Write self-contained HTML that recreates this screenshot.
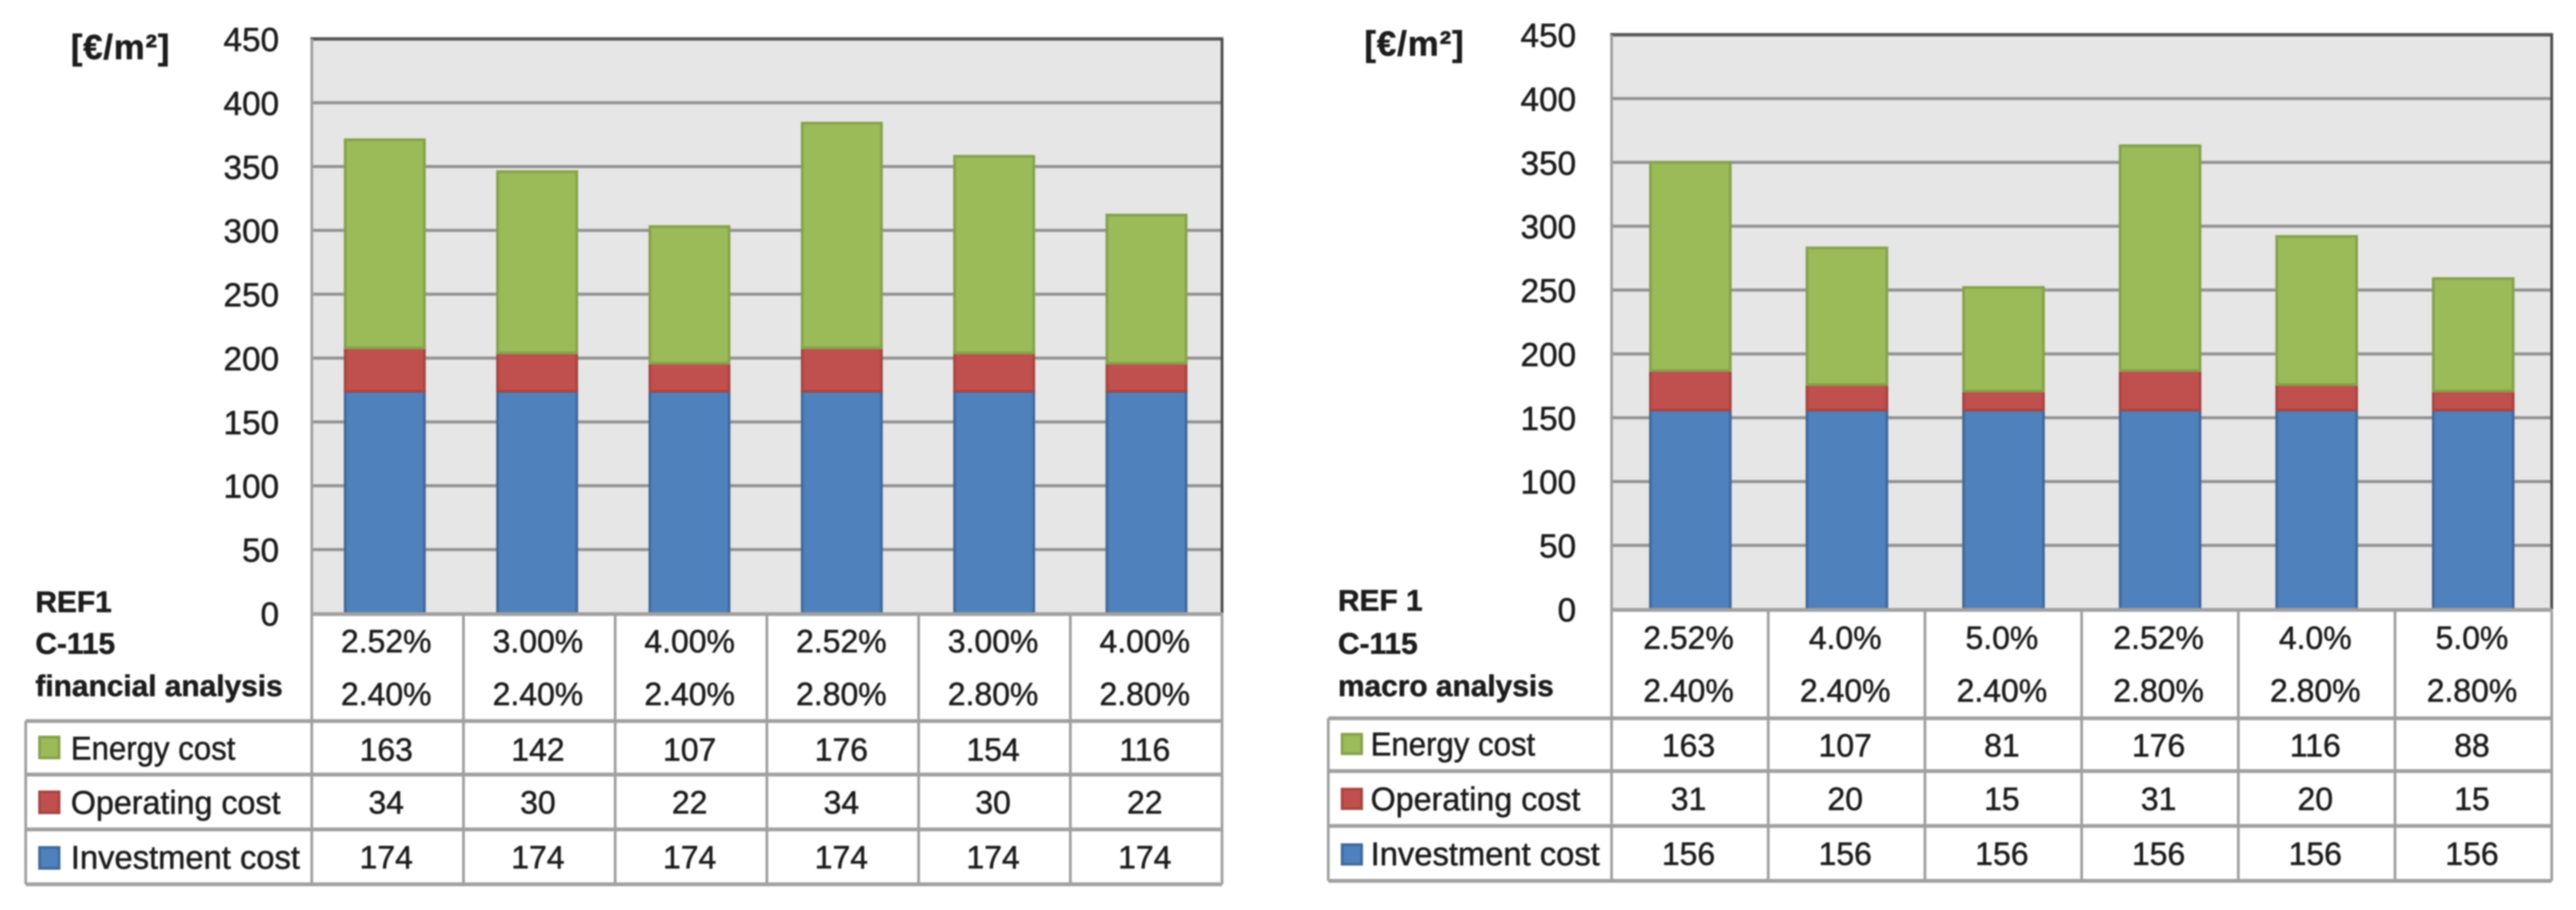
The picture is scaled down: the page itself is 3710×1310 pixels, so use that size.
<!DOCTYPE html>
<html lang="en">
<head>
<meta charset="utf-8">
<title>REF1 C-115 cost comparison</title>
<style>
html,body{margin:0;padding:0;background:#fff;}
body{width:3710px;height:1310px;overflow:hidden;}
svg{display:block;filter:blur(1.1px);}
text{font-family:"Liberation Sans",sans-serif;fill:#1c1c1c;stroke:#1c1c1c;stroke-width:.7px;}
</style>
</head>
<body>
<svg id="figure" xmlns="http://www.w3.org/2000/svg" width="3710" height="1310" viewBox="0 0 3710 1310"></svg>
<script>
// Shared data
const yTickLabels = [0, 50, 100, 150, 200, 250, 300, 350, 400, 450];
const yMax = 450;
const unitLabel = '[€/m²]';
const seriesNames = ['Energy cost', 'Operating cost', 'Investment cost'];

// Left chart data
const leftTitleLines = ['REF1', 'C-115', 'financial analysis'];
const leftRowOne = ['2.52%', '3.00%', '4.00%', '2.52%', '3.00%', '4.00%'];
const leftRowTwo = ['2.40%', '2.40%', '2.40%', '2.80%', '2.80%', '2.80%'];
const leftEnergy = [163, 142, 107, 176, 154, 116];
const leftOperating = [34, 30, 22, 34, 30, 22];
const leftInvestment = [174, 174, 174, 174, 174, 174];

// Right chart data
const rightTitleLines = ['REF 1', 'C-115', 'macro analysis'];
const rightRowOne = ['2.52%', '4.0%', '5.0%', '2.52%', '4.0%', '5.0%'];
const rightRowTwo = ['2.40%', '2.40%', '2.40%', '2.80%', '2.80%', '2.80%'];
const rightEnergy = [163, 107, 81, 176, 116, 88];
const rightOperating = [31, 20, 15, 31, 20, 15];
const rightInvestment = [156, 156, 156, 156, 156, 156];

const COLORS = {
  energy: ['#9bbb59', '#86a24c'],
  operating: ['#c0504d', '#a74542'],
  investment: ['#4f81bd', '#41699c']
};
const GRID = '#939393';
const TABLE_LINE = '#a0a0a0';
const LEGEND_FIT = [237, 302, 330];

const svg = document.getElementById('figure');
const NS = 'http://www.w3.org/2000/svg';

function make(tag, attrs, parent) {
  const el = document.createElementNS(NS, tag);
  for (const k in attrs) el.setAttribute(k, attrs[k]);
  parent.appendChild(el);
  return el;
}

function label(parent, str, x, y, size, anchor, weight) {
  const t = make('text', {
    x: x, y: y, 'font-size': size, 'text-anchor': anchor || 'middle',
    'font-weight': weight || 'normal', 'dominant-baseline': 'central'
  }, parent);
  t.textContent = str;
  return t;
}

function drawChart(layout, data) {
  const root = make('g', {}, svg);
  
  

  const n = data.energy.length;
  const y = v => layout.base - (v / yMax) * (layout.base - layout.top);
  const barX = i => layout.bandStart + (i + 0.5) * layout.bandStep;
  const colX = i => layout.left + i * (layout.right - layout.left) / n;

  // plot background
  const plot = make('rect', {
    x: layout.left, y: layout.top, width: layout.right - layout.left, height: layout.base - layout.top, fill: '#e6e6e6'
  }, root);
  
  

  // gridlines and y tick labels
  yTickLabels.forEach(v => {
    if (v > 0 && v < yMax) {
      const g = make('line', {
        x1: layout.left, x2: layout.right, y1: y(v), y2: y(v), stroke: GRID, 'stroke-width': 4.5
      }, root);
      
      
    }
    const t = label(root, String(v), layout.tickX, y(v) + 2, 48, 'end');
    
    
  });

  // stacked bars: investment at the bottom, then operating, then energy
  for (let i = 0; i < n; i++) {
    const stack = [
      ['investment', data.investment[i]],
      ['operating', data.operating[i]],
      ['energy', data.energy[i]]
    ];
    let sum = 0;
    stack.forEach(([key, value]) => {
      const yTop = y(sum + value);
      const yBottom = y(sum);
      const r = make('rect', {
        x: barX(i) - layout.barWidth / 2, y: yTop, width: layout.barWidth, height: yBottom - yTop,
        fill: COLORS[key][0], stroke: COLORS[key][1], 'stroke-width': 4
      }, root);
      
      
      sum += value;
    });
  }

  // frame: dark top and right, grey left and bottom
  const frameTop = make('line', { x1: layout.left - 2, x2: layout.right + 2, y1: layout.top, y2: layout.top, stroke: '#5a5a5a', 'stroke-width': 5 }, root);
  
  
  const frameRight = make('line', { x1: layout.right, x2: layout.right, y1: layout.top, y2: layout.base, stroke: '#4a4a4a', 'stroke-width': 4 }, root);
  
  

  // data table lines
  const rows = layout.rows;
  const hLines = [
    [layout.left, rows[0]],
    [layout.tableLeft, rows[1]],
    [layout.tableLeft, rows[2]],
    [layout.tableLeft, rows[3]],
    [layout.tableLeft, rows[4]]
  ];
  hLines.forEach(([x1, yy], idx) => {
    const l = make('line', { x1: x1, x2: layout.right, y1: yy, y2: yy, stroke: TABLE_LINE, 'stroke-width': 5.5 }, root);
    
    
  });
  for (let i = 0; i <= n; i++) {
    const yStart = (i === 0) ? layout.top : rows[0];
    const l = make('line', { x1: colX(i), x2: colX(i), y1: yStart, y2: rows[4], stroke: TABLE_LINE, 'stroke-width': 4 }, root);
    
    
  }
  const tl = make('line', { x1: layout.tableLeft, x2: layout.tableLeft, y1: rows[1], y2: rows[4], stroke: TABLE_LINE, 'stroke-width': 4 }, root);
  
  

  // unit label
  const unit = label(root, unitLabel, layout.unitX, layout.unitY, 50, 'start', 'bold');
  unit.setAttribute('textLength', layout.unitWidth);
  
  

  // title block
  data.title.forEach((line, idx) => {
    const t = label(root, line, layout.titleX, layout.titleY[idx], 43, 'start', 'bold');
    
    
  });

  // table header values and series values
  const mid = i => (colX(i) + colX(i + 1)) / 2 - 2;
  for (let i = 0; i < n; i++) {
    const a = label(root, data.rowOne[i], mid(i), layout.headerY[0], 46);
    
    
    const b = label(root, data.rowTwo[i], mid(i), layout.headerY[1], 46);
    
    
    [data.energy, data.operating, data.investment].forEach((series, s) => {
      const c = label(root, String(series[i]), mid(i), layout.valueY[s], 46);
      
      
    });
  }

  // legend entries in the table
  const keys = ['energy', 'operating', 'investment'];
  seriesNames.forEach((nameText, s) => {
    const sw = make('rect', {
      x: layout.swatchX, y: layout.swatchY[s], width: layout.swatchW, height: layout.swatchH,
      fill: COLORS[keys[s]][0], stroke: COLORS[keys[s]][1], 'stroke-width': 4
    }, root);
    
    
    const t = label(root, nameText, layout.legendX, layout.legendY[s], 47, 'start');
    t.setAttribute('textLength', LEGEND_FIT[s]);
    t.setAttribute('lengthAdjust', 'spacingAndGlyphs');
    
    
  });
}

drawChart({
  name: 'financial-analysis-chart',
  left: 449, right: 1760, top: 56, base: 883,
  bandStart: 444.5, bandStep: 219.4, barWidth: 114,
  tickX: 402, tableLeft: 37,
  rows: [884, 1038, 1115, 1194, 1273],
  unitX: 102, unitY: 68, unitWidth: 142,
  titleX: 51, titleY: [867, 927, 988],
  headerY: [923, 999],
  valueY: [1079, 1155, 1234],
  swatchX: 57, swatchY: [1061, 1140, 1220], swatchW: 28, swatchH: 30,
  legendX: 102, legendY: [1077, 1155, 1234]
}, {
  title: leftTitleLines, rowOne: leftRowOne, rowTwo: leftRowTwo,
  energy: leftEnergy, operating: leftOperating, investment: leftInvestment
});

drawChart({
  name: 'macro-analysis-chart',
  left: 2321, right: 3675, top: 50, base: 877,
  bandStart: 2321.75, bandStep: 225.5, barWidth: 115,
  tickX: 2270, tableLeft: 1913,
  rows: [878, 1034, 1110, 1189, 1268],
  unitX: 1965, unitY: 63, unitWidth: 143,
  titleX: 1927, titleY: [865, 927, 988],
  headerY: [918, 994],
  valueY: [1073, 1150, 1229],
  swatchX: 1933, swatchY: [1057, 1136, 1216], swatchW: 28, swatchH: 28,
  legendX: 1974, legendY: [1071, 1150, 1229]
}, {
  title: rightTitleLines, rowOne: rightRowOne, rowTwo: rightRowTwo,
  energy: rightEnergy, operating: rightOperating, investment: rightInvestment
});
</script>
</body>
</html>
